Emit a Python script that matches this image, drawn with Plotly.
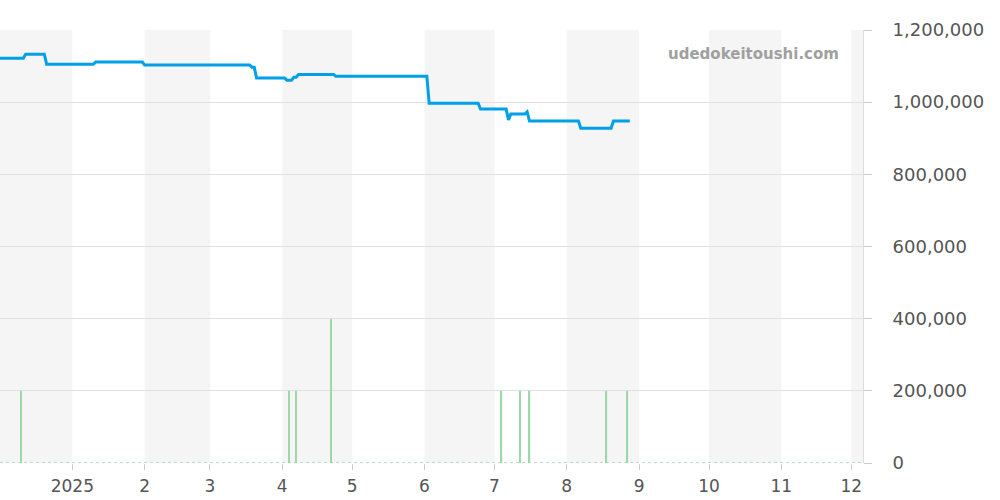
import plotly.graph_objects as go
import pandas as pd

line_dates = ["2024-12-01","2024-12-11","2024-12-12","2024-12-20","2024-12-21","2025-01-10","2025-01-11",
              "2025-01-31","2025-02-01","2025-03-18","2025-03-19","2025-03-20","2025-03-21","2025-04-02","2025-04-03",
              "2025-04-05","2025-04-06","2025-04-07","2025-04-08","2025-04-23","2025-04-24","2025-06-02","2025-06-03",
              "2025-06-24","2025-06-25","2025-07-06","2025-07-07","2025-07-08","2025-07-14","2025-07-15","2025-07-16",
              "2025-08-06","2025-08-07","2025-08-20","2025-08-21","2025-08-28"]
line_vals = [1122000,1122000,1133000,1133000,1105000,1105000,1111000,
             1111000,1103000,1103000,1097000,1097000,1067000,1067000,1061000,
             1061000,1069000,1069000,1077000,1077000,1072000,1072000,997000,
             997000,981000,981000,951000,967000,967000,973000,948000,
             948000,928000,928000,948000,948000]

bar_dates = ["2024-12-10","2025-04-04","2025-04-07","2025-04-22","2025-07-04","2025-07-12","2025-07-16","2025-08-18","2025-08-27"]
bar_vals = [200000,200000,200000,400000,200000,200000,200000,200000,200000]

month_starts = pd.date_range("2024-12-01","2026-01-01",freq="MS")
tick_dates = month_starts[1:13]
tick_text = ["2025","2","3","4","5","6","7","8","9","10","11","12"]
y_ticks = [0,200000,400000,600000,800000,1000000,1200000]

fig = go.Figure()
shapes = []
for i in range(0, len(month_starts)-1, 2):
    shapes.append(dict(type="rect", xref="x", yref="paper", x0=month_starts[i], x1=month_starts[i+1],
                       y0=0, y1=1, fillcolor="#f5f5f5", line_width=0, layer="below"))

fig.add_trace(go.Scatter(x=["2024-12-01","2025-12-06"], y=[0,0], mode="lines",
                         line=dict(color="#9fd8a8", width=1.5, dash="dot"), hoverinfo="skip"))
fig.add_trace(go.Bar(x=bar_dates, y=bar_vals, width=0.6*86400000, marker=dict(color="#9fd8a8", line_width=0)))
fig.add_trace(go.Scatter(x=line_dates, y=line_vals, mode="lines", line=dict(color="#00a0e9", width=3)))

fig.update_layout(
    width=1000, height=500, showlegend=False, plot_bgcolor="white", paper_bgcolor="white",
    margin=dict(l=0, r=137, t=30, b=37, autoexpand=False), shapes=shapes,
    font=dict(family="DejaVu Sans", size=17, color="#555"),
    xaxis=dict(range=["2024-12-01","2025-12-06"], tickvals=tick_dates, ticktext=tick_text,
               showgrid=False, ticks="outside", ticklen=6, tickcolor="#ccc", showline=False,
               ticklabelstandoff=2),
    yaxis=dict(side="right", range=[0,1200000], tickvals=y_ticks, tickformat=",", gridcolor="#e0e0e0",
               showline=True, linecolor="#ddd", ticks="outside", ticklen=8, tickcolor="#ccc", zeroline=False,
               ticklabelstandoff=17, tickfont=dict(size=18)),
    annotations=[dict(text="udedokeitoushi.com", xref="paper", yref="paper", x=0.975, y=0.97,
                      xanchor="right", yanchor="top", showarrow=False,
                      font=dict(size=15, color="#a0a0a0", family="DejaVu Sans", weight="bold"))],
)
fig.write_html("out.html", config={"displayModeBar": False},
               post_script="document.body.style.margin='0';document.body.style.overflow='hidden';")
